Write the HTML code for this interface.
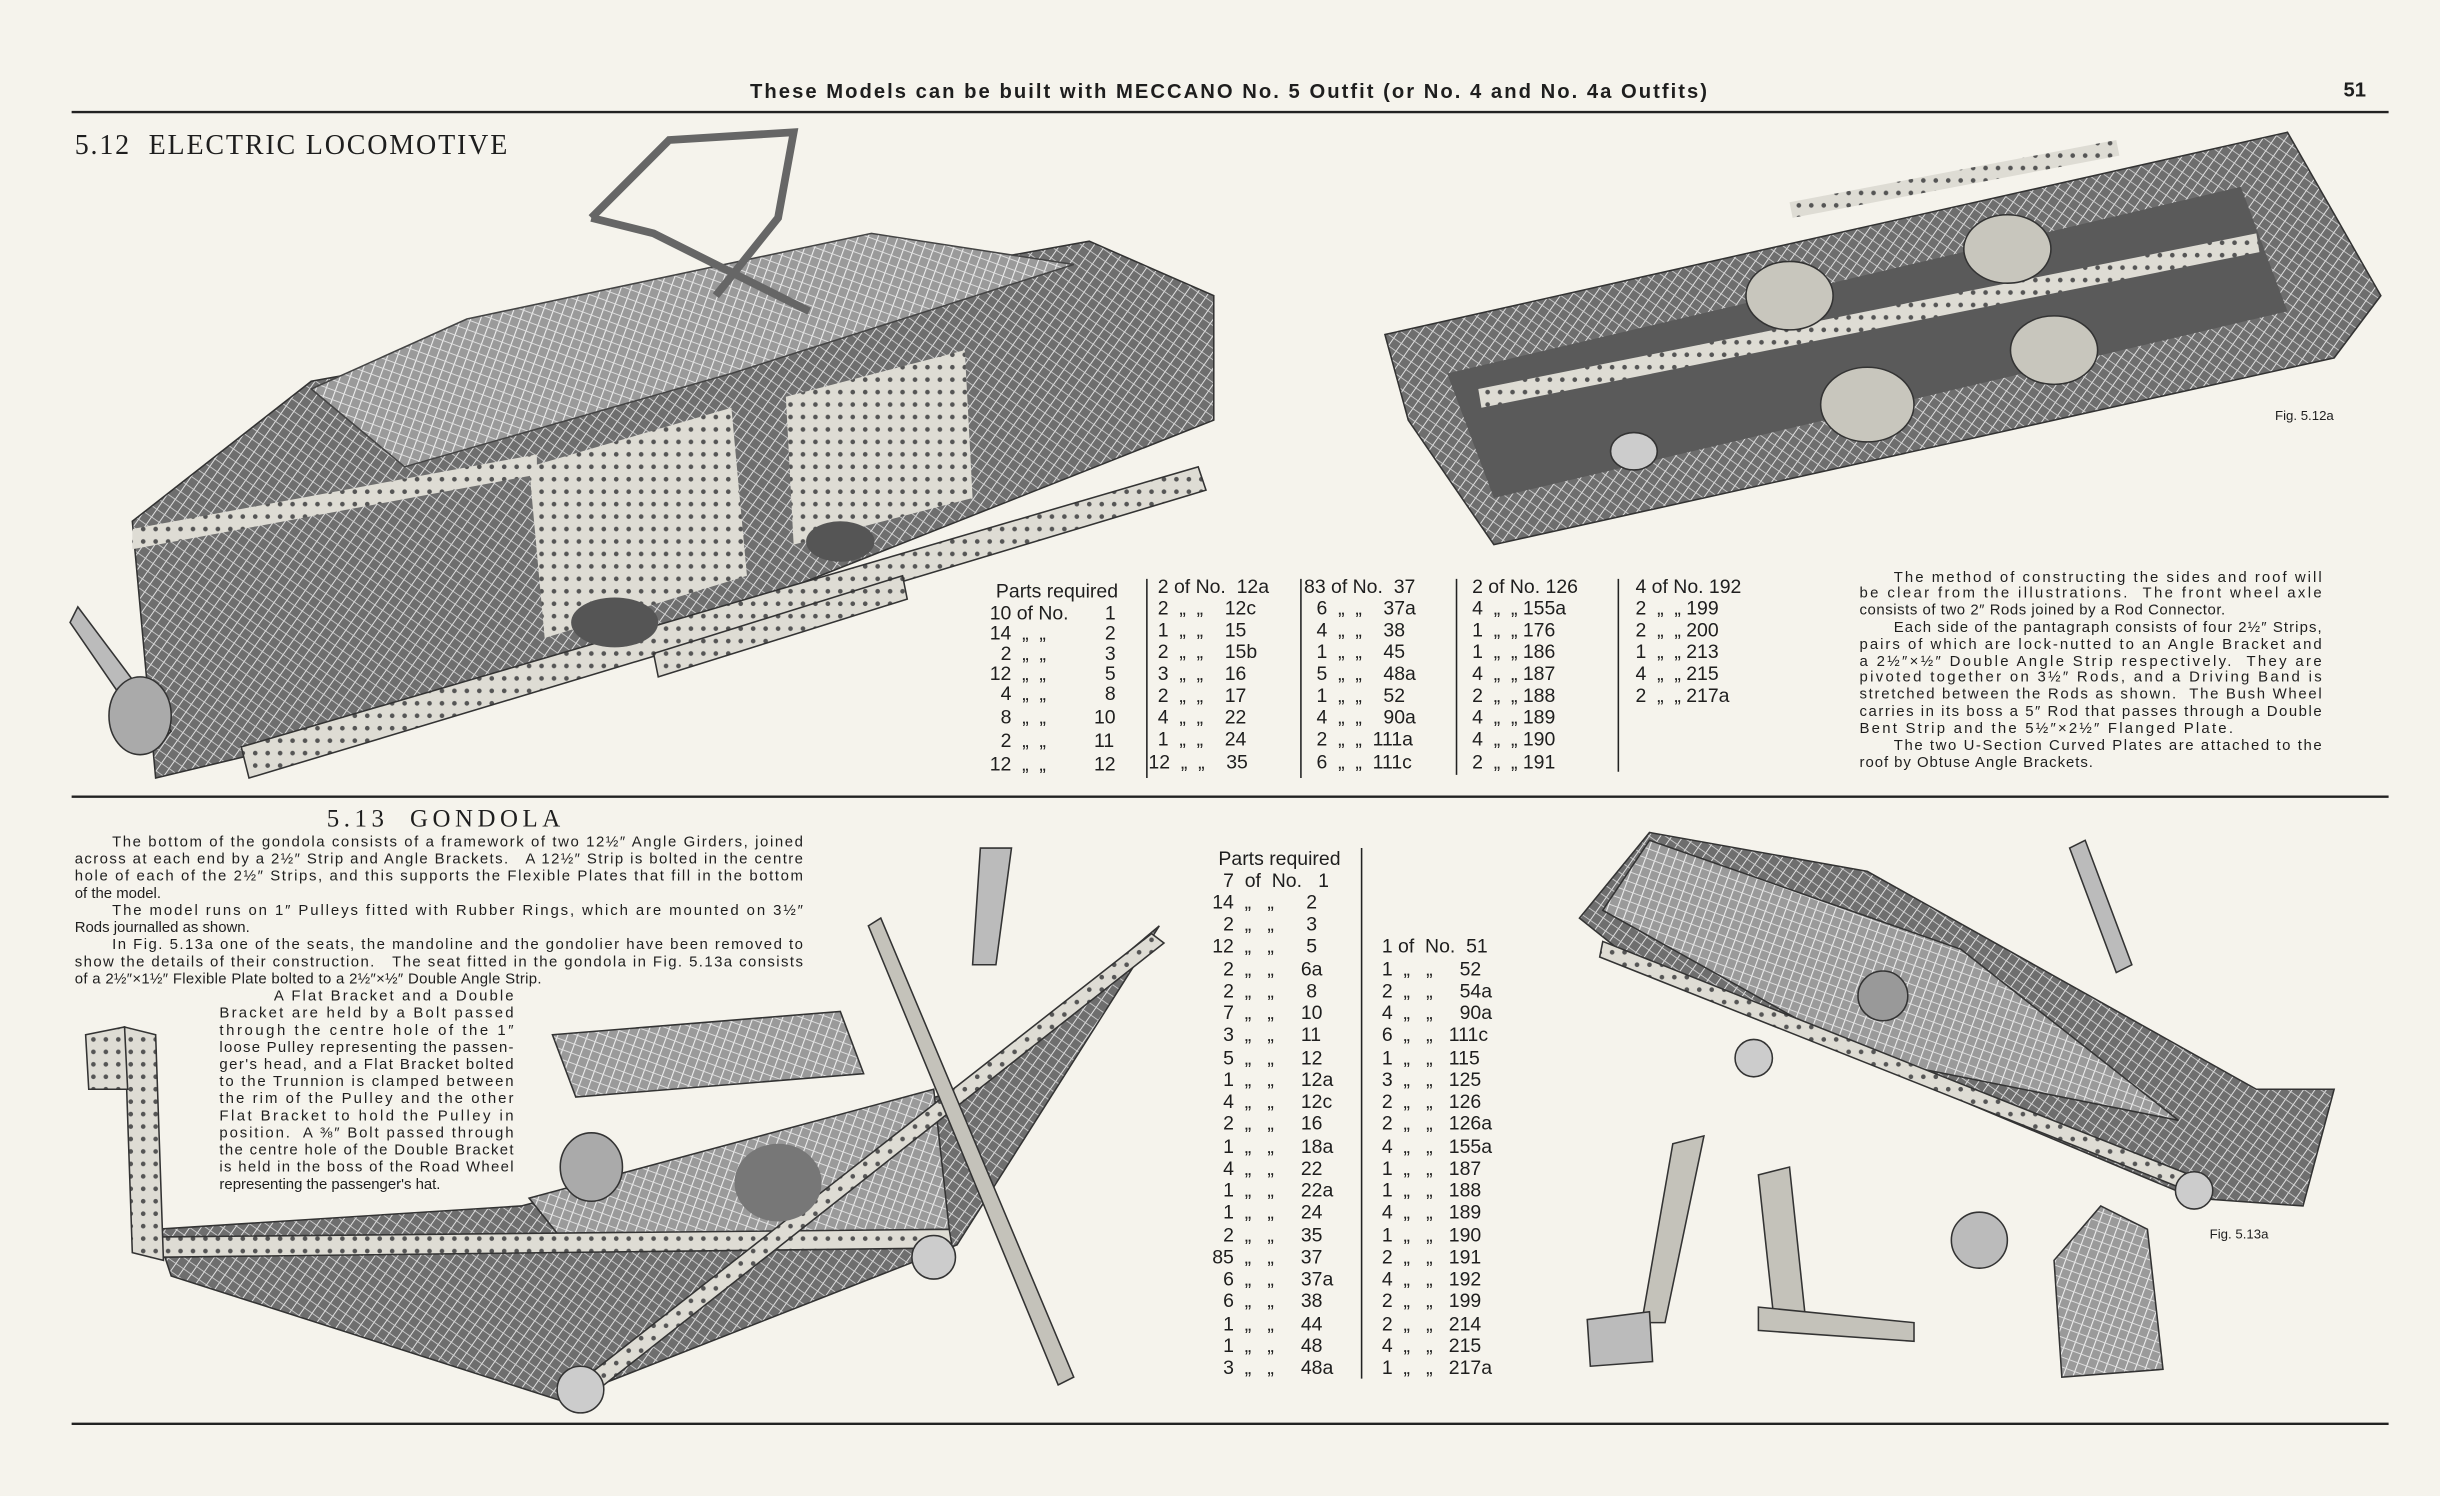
<!DOCTYPE html>
<html><head><meta charset="utf-8"><style>
html,body{margin:0;padding:0;background:#f5f3ec}
svg{display:block}
text{font-family:"Liberation Sans",sans-serif;fill:#1e1e1e;white-space:pre}
.s{font-family:"Liberation Serif",serif}
</style></head><body>
<svg width="2440" height="1496" viewBox="0 0 1568 961.4" xmlns="http://www.w3.org/2000/svg" xml:space="preserve">
<defs>
<pattern id="h" width="6" height="6" patternUnits="userSpaceOnUse" patternTransform="rotate(35)">
<rect width="6" height="6" fill="#6e6e6e"/><line x1="0" y1="0" x2="0" y2="6" stroke="#e0e0e0" stroke-width="1.3"/><line x1="0" y1="0" x2="6" y2="0" stroke="#d0d0d0" stroke-width="1.1"/></pattern>
<pattern id="h2" width="6" height="6" patternUnits="userSpaceOnUse" patternTransform="rotate(20)">
<rect width="6" height="6" fill="#9a9a9a"/><line x1="0" y1="0" x2="0" y2="6" stroke="#eee" stroke-width="1.4"/><line x1="0" y1="0" x2="6" y2="0" stroke="#e0e0e0" stroke-width="1.2"/></pattern>
<pattern id="st" width="8" height="8" patternUnits="userSpaceOnUse"><rect width="8" height="8" fill="#dedcd4"/><circle cx="4" cy="4" r="1.5" fill="#555"/></pattern>
</defs>
<rect width="1568" height="961.4" fill="#f5f3ec"/>
<!-- header -->
<text x="482" y="63" font-size="13" font-weight="bold" textLength="615">These Models can be built with MECCANO No. 5 Outfit (or No. 4 and No. 4a Outfits)</text>
<text x="1506" y="62" font-size="13" font-weight="bold">51</text>
<line x1="46" y1="72" x2="1535" y2="72" stroke="#222" stroke-width="1.5"/>
<text class="s" x="48" y="99" font-size="18" textLength="278">5.12  ELECTRIC LOCOMOTIVE</text>

<!-- locomotive -->
<polygon points="85,335 200,245 700,155 780,190 780,270 350,440 100,500" fill="url(#h)" stroke="#333"/>
<polygon points="200,250 300,205 560,150 690,170 470,240 260,300" fill="url(#h2)" stroke="#444"/>
<polygon points="340,300 470,262 480,370 350,410" fill="url(#st)"/>
<polygon points="505,255 620,225 625,320 510,350" fill="url(#st)"/>
<polygon points="155,480 770,300 775,315 160,500" fill="url(#st)" stroke="#333"/>
<polygon points="85,340 345,292 345,305 85,353" fill="url(#st)"/>
<polygon points="420,420 580,370 583,385 423,435" fill="url(#st)" stroke="#333"/>
<polygon points="50,390 110,470 100,480 45,400" fill="#bbb" stroke="#333"/>
<ellipse cx="90" cy="460" rx="20" ry="25" fill="#aaa" stroke="#333"/>
<ellipse cx="395" cy="400" rx="28" ry="16" fill="#555"/>
<ellipse cx="540" cy="348" rx="22" ry="13" fill="#555"/>
<g stroke="#666" stroke-width="5" fill="none"><polyline points="380,140 430,90 510,85 500,140 460,190"/><polyline points="380,140 420,150 520,200"/></g>
<!-- fig 5.12a -->
<polygon points="890,215 1470,85 1530,190 1500,230 960,350 905,270" fill="url(#h)" stroke="#333"/>
<polygon points="930,240 1440,120 1470,200 960,320" fill="#5a5a5a"/>
<polygon points="1150,130 1360,90 1362,100 1152,140" fill="url(#st)"/>
<polygon points="950,250 1450,150 1452,162 952,262" fill="url(#st)"/>
<ellipse cx="1150" cy="190" rx="28" ry="22" fill="#c8c6bd" stroke="#333"/>
<ellipse cx="1290" cy="160" rx="28" ry="22" fill="#c8c6bd" stroke="#333"/>
<ellipse cx="1200" cy="260" rx="30" ry="24" fill="#c8c6bd" stroke="#333"/>
<ellipse cx="1320" cy="225" rx="28" ry="22" fill="#c8c6bd" stroke="#333"/>
<ellipse cx="1050" cy="290" rx="15" ry="12" fill="#ccc" stroke="#333"/>
<text x="1462" y="270" font-size="8.5">Fig. 5.12a</text>

<!-- parts 5.12 -->
<g font-size="12.5">
<text x="640" y="384">Parts required</text>
<text x="636" y="398">10 of No.</text><text x="710" y="398">1</text>
<text x="636" y="411">14  „  „</text><text x="710" y="411">2</text>
<text x="643" y="424">2  „  „</text><text x="710" y="424">3</text>
<text x="636" y="437">12  „  „</text><text x="710" y="437">5</text>
<text x="643" y="450">4  „  „</text><text x="710" y="450">8</text>
<text x="643" y="465">8  „  „</text><text x="703" y="465">10</text>
<text x="643" y="480">2  „  „</text><text x="703" y="480">11</text>
<text x="636" y="495">12  „  „</text><text x="703" y="495">12</text>
<text x="744" y="381">2 of No.  12a</text>
<text x="744" y="395">2  „  „    12c</text>
<text x="744" y="409">1  „  „    15</text>
<text x="744" y="423">2  „  „    15b</text>
<text x="744" y="437">3  „  „    16</text>
<text x="744" y="451">2  „  „    17</text>
<text x="744" y="465">4  „  „    22</text>
<text x="744" y="479">1  „  „    24</text>
<text x="738" y="494">12  „  „    35</text>
<text x="838" y="381">83 of No.  37</text>
<text x="846" y="395">6  „  „    37a</text>
<text x="846" y="409">4  „  „    38</text>
<text x="846" y="423">1  „  „    45</text>
<text x="846" y="437">5  „  „    48a</text>
<text x="846" y="451">1  „  „    52</text>
<text x="846" y="465">4  „  „    90a</text>
<text x="846" y="479">2  „  „  111a</text>
<text x="846" y="494">6  „  „  111c</text>
<text x="946" y="381">2 of No. 126</text>
<text x="946" y="395">4  „  „ 155a</text>
<text x="946" y="409">1  „  „ 176</text>
<text x="946" y="423">1  „  „ 186</text>
<text x="946" y="437">4  „  „ 187</text>
<text x="946" y="451">2  „  „ 188</text>
<text x="946" y="465">4  „  „ 189</text>
<text x="946" y="479">4  „  „ 190</text>
<text x="946" y="494">2  „  „ 191</text>
<text x="1051" y="381">4 of No. 192</text>
<text x="1051" y="395">2  „  „ 199</text>
<text x="1051" y="409">2  „  „ 200</text>
<text x="1051" y="423">1  „  „ 213</text>
<text x="1051" y="437">4  „  „ 215</text>
<text x="1051" y="451">2  „  „ 217a</text>
</g>
<g stroke="#222" stroke-width="1"><line x1="737" y1="372" x2="737" y2="500"/><line x1="836" y1="372" x2="836" y2="500"/><line x1="936" y1="372" x2="936" y2="498"/><line x1="1040" y1="372" x2="1040" y2="496"/></g>
<g font-size="9.6">
<text x="1217" y="374" textLength="275">The method of constructing the sides and roof will</text>
<text x="1195" y="384" textLength="297">be clear from the illustrations.  The front wheel axle</text>
<text x="1195" y="395" textLength="235">consists of two 2″ Rods joined by a Rod Connector.</text>
<text x="1217" y="406" textLength="275">Each side of the pantagraph consists of four 2½″ Strips,</text>
<text x="1195" y="417" textLength="297">pairs of which are lock-nutted to an Angle Bracket and</text>
<text x="1195" y="428" textLength="297">a 2½″×½″ Double Angle Strip respectively.  They are</text>
<text x="1195" y="438" textLength="297">pivoted together on 3½″ Rods, and a Driving Band is</text>
<text x="1195" y="449" textLength="297">stretched between the Rods as shown.  The Bush Wheel</text>
<text x="1195" y="460" textLength="297">carries in its boss a 5″ Rod that passes through a Double</text>
<text x="1195" y="471" textLength="240">Bent Strip and the 5½″×2½″ Flanged Plate.</text>
<text x="1217" y="482" textLength="275">The two U-Section Curved Plates are attached to the</text>
<text x="1195" y="493" textLength="150">roof by Obtuse Angle Brackets.</text>
</g>
<line x1="46" y1="512" x2="1535" y2="512" stroke="#222" stroke-width="1.5"/>

<!-- gondola text -->
<text class="s" x="210" y="531" font-size="16" textLength="150">5.13  GONDOLA</text>
<g font-size="9.6">
<text x="72" y="544" textLength="444">The bottom of the gondola consists of a framework of two 12½″ Angle Girders, joined</text>
<text x="48" y="555" textLength="468">across at each end by a 2½″ Strip and Angle Brackets.   A 12½″ Strip is bolted in the centre</text>
<text x="48" y="566" textLength="468">hole of each of the 2½″ Strips, and this supports the Flexible Plates that fill in the bottom</text>
<text x="48" y="577">of the model.</text>
<text x="72" y="588" textLength="444">The model runs on 1″ Pulleys fitted with Rubber Rings, which are mounted on 3½″</text>
<text x="48" y="599">Rods journalled as shown.</text>
<text x="72" y="610" textLength="444">In Fig. 5.13a one of the seats, the mandoline and the gondolier have been removed to</text>
<text x="48" y="621" textLength="468">show the details of their construction.   The seat fitted in the gondola in Fig. 5.13a consists</text>
<text x="48" y="632" textLength="300">of a 2½″×1½″ Flexible Plate bolted to a 2½″×½″ Double Angle Strip.</text>
<text x="176" y="643" textLength="154">A Flat Bracket and a Double</text>
<text x="141" y="654" textLength="189">Bracket are held by a Bolt passed</text>
<text x="141" y="665" textLength="189">through the centre hole of the 1″</text>
<text x="141" y="676" textLength="189">loose Pulley representing the passen-</text>
<text x="141" y="687" textLength="189">ger's head, and a Flat Bracket bolted</text>
<text x="141" y="698" textLength="189">to the Trunnion is clamped between</text>
<text x="141" y="709" textLength="189">the rim of the Pulley and the other</text>
<text x="141" y="720" textLength="189">Flat Bracket to hold the Pulley in</text>
<text x="141" y="731" textLength="189">position.  A ⅜″ Bolt passed through</text>
<text x="141" y="742" textLength="189">the centre hole of the Double Bracket</text>
<text x="141" y="753" textLength="189">is held in the boss of the Road Wheel</text>
<text x="141" y="764">representing the passenger's hat.</text>
</g>

<!-- gondola drawing -->
<polygon points="100,790 335,775 620,700 745,595 615,800 360,900 110,820" fill="url(#h)" stroke="#333"/>
<polygon points="340,770 600,700 610,790 360,795" fill="url(#h2)" stroke="#333"/>
<polygon points="95,795 610,790 612,802 97,808" fill="url(#st)" stroke="#333"/>
<polygon points="370,890 740,600 748,606 378,898" fill="url(#st)" stroke="#333"/>
<polygon points="355,665 540,650 555,690 370,705" fill="url(#h2)" stroke="#333"/>
<polygon points="80,660 100,665 105,810 85,805" fill="url(#st)" stroke="#333"/>
<polygon points="55,665 80,660 82,700 57,700" fill="url(#st)" stroke="#333"/>
<polygon points="558,595 566,590 690,885 680,890" fill="#c4c2ba" stroke="#333"/>
<polygon points="630,545 650,545 640,620 625,620" fill="#bbb" stroke="#333"/>
<ellipse cx="500" cy="760" rx="28" ry="25" fill="#777"/>
<ellipse cx="380" cy="750" rx="20" ry="22" fill="#aaa" stroke="#333"/>
<circle cx="373" cy="893" r="15" fill="#ccc" stroke="#333"/>
<circle cx="600" cy="808" r="14" fill="#ccc" stroke="#333"/>

<!-- parts 5.13 -->
<g font-size="12.5">
<text x="783" y="556">Parts required</text>
<text x="786" y="570">7  of  No.   1</text>
<text x="779" y="584">14  „   „      2</text>
<text x="786" y="598">2  „   „      3</text>
<text x="779" y="612">12  „   „      5</text>
<text x="786" y="627">2  „   „     6a</text>
<text x="786" y="641">2  „   „      8</text>
<text x="786" y="655">7  „   „     10</text>
<text x="786" y="669">3  „   „     11</text>
<text x="786" y="684">5  „   „     12</text>
<text x="786" y="698">1  „   „     12a</text>
<text x="786" y="712">4  „   „     12c</text>
<text x="786" y="726">2  „   „     16</text>
<text x="786" y="741">1  „   „     18a</text>
<text x="786" y="755">4  „   „     22</text>
<text x="786" y="769">1  „   „     22a</text>
<text x="786" y="783">1  „   „     24</text>
<text x="786" y="798">2  „   „     35</text>
<text x="779" y="812">85  „   „     37</text>
<text x="786" y="826">6  „   „     37a</text>
<text x="786" y="840">6  „   „     38</text>
<text x="786" y="855">1  „   „     44</text>
<text x="786" y="869">1  „   „     48</text>
<text x="786" y="883">3  „   „     48a</text>
<text x="888" y="612">1 of  No.  51</text>
<text x="888" y="627">1  „   „     52</text>
<text x="888" y="641">2  „   „     54a</text>
<text x="888" y="655">4  „   „     90a</text>
<text x="888" y="669">6  „   „   111c</text>
<text x="888" y="684">1  „   „   115</text>
<text x="888" y="698">3  „   „   125</text>
<text x="888" y="712">2  „   „   126</text>
<text x="888" y="726">2  „   „   126a</text>
<text x="888" y="741">4  „   „   155a</text>
<text x="888" y="755">1  „   „   187</text>
<text x="888" y="769">1  „   „   188</text>
<text x="888" y="783">4  „   „   189</text>
<text x="888" y="798">1  „   „   190</text>
<text x="888" y="812">2  „   „   191</text>
<text x="888" y="826">4  „   „   192</text>
<text x="888" y="840">2  „   „   199</text>
<text x="888" y="855">2  „   „   214</text>
<text x="888" y="869">4  „   „   215</text>
<text x="888" y="883">1  „   „   217a</text>
</g>
<line x1="875" y1="545" x2="875" y2="886" stroke="#222" stroke-width="1"/>

<!-- fig 5.13a -->
<polygon points="1015,590 1060,535 1200,560 1450,700 1500,700 1480,775 1410,770 1100,640 1040,610" fill="url(#h)" stroke="#333"/>
<polygon points="1030,585 1060,540 1260,610 1400,720 1200,680" fill="url(#h2)" stroke="#333"/>
<polygon points="1030,605 1420,760 1418,770 1028,615" fill="url(#st)" stroke="#333"/>
<polygon points="1330,545 1340,540 1370,620 1360,625" fill="#bbb" stroke="#333"/>
<circle cx="1127" cy="680" r="12" fill="#ccc" stroke="#333"/>
<circle cx="1410" cy="765" r="12" fill="#ccc" stroke="#333"/>
<circle cx="1210" cy="640" r="16" fill="#999" stroke="#333"/>
<polygon points="1075,735 1095,730 1070,850 1055,850" fill="#c4c2ba" stroke="#333"/>
<polygon points="1130,755 1150,750 1160,845 1140,848" fill="#c4c2ba" stroke="#333"/>
<polygon points="1130,840 1230,850 1230,862 1130,855" fill="#c4c2ba" stroke="#333"/>
<polygon points="1020,848 1060,843 1062,875 1022,878" fill="#bbb" stroke="#333"/>
<circle cx="1272" cy="797" r="18" fill="#bbb" stroke="#333"/>
<polygon points="1320,810 1350,775 1380,790 1390,880 1325,885" fill="url(#h2)" stroke="#333"/>
<text x="1420" y="796" font-size="8.5">Fig. 5.13a</text>

<line x1="46" y1="915" x2="1535" y2="915" stroke="#222" stroke-width="1.5"/>
</svg>
</body></html>
